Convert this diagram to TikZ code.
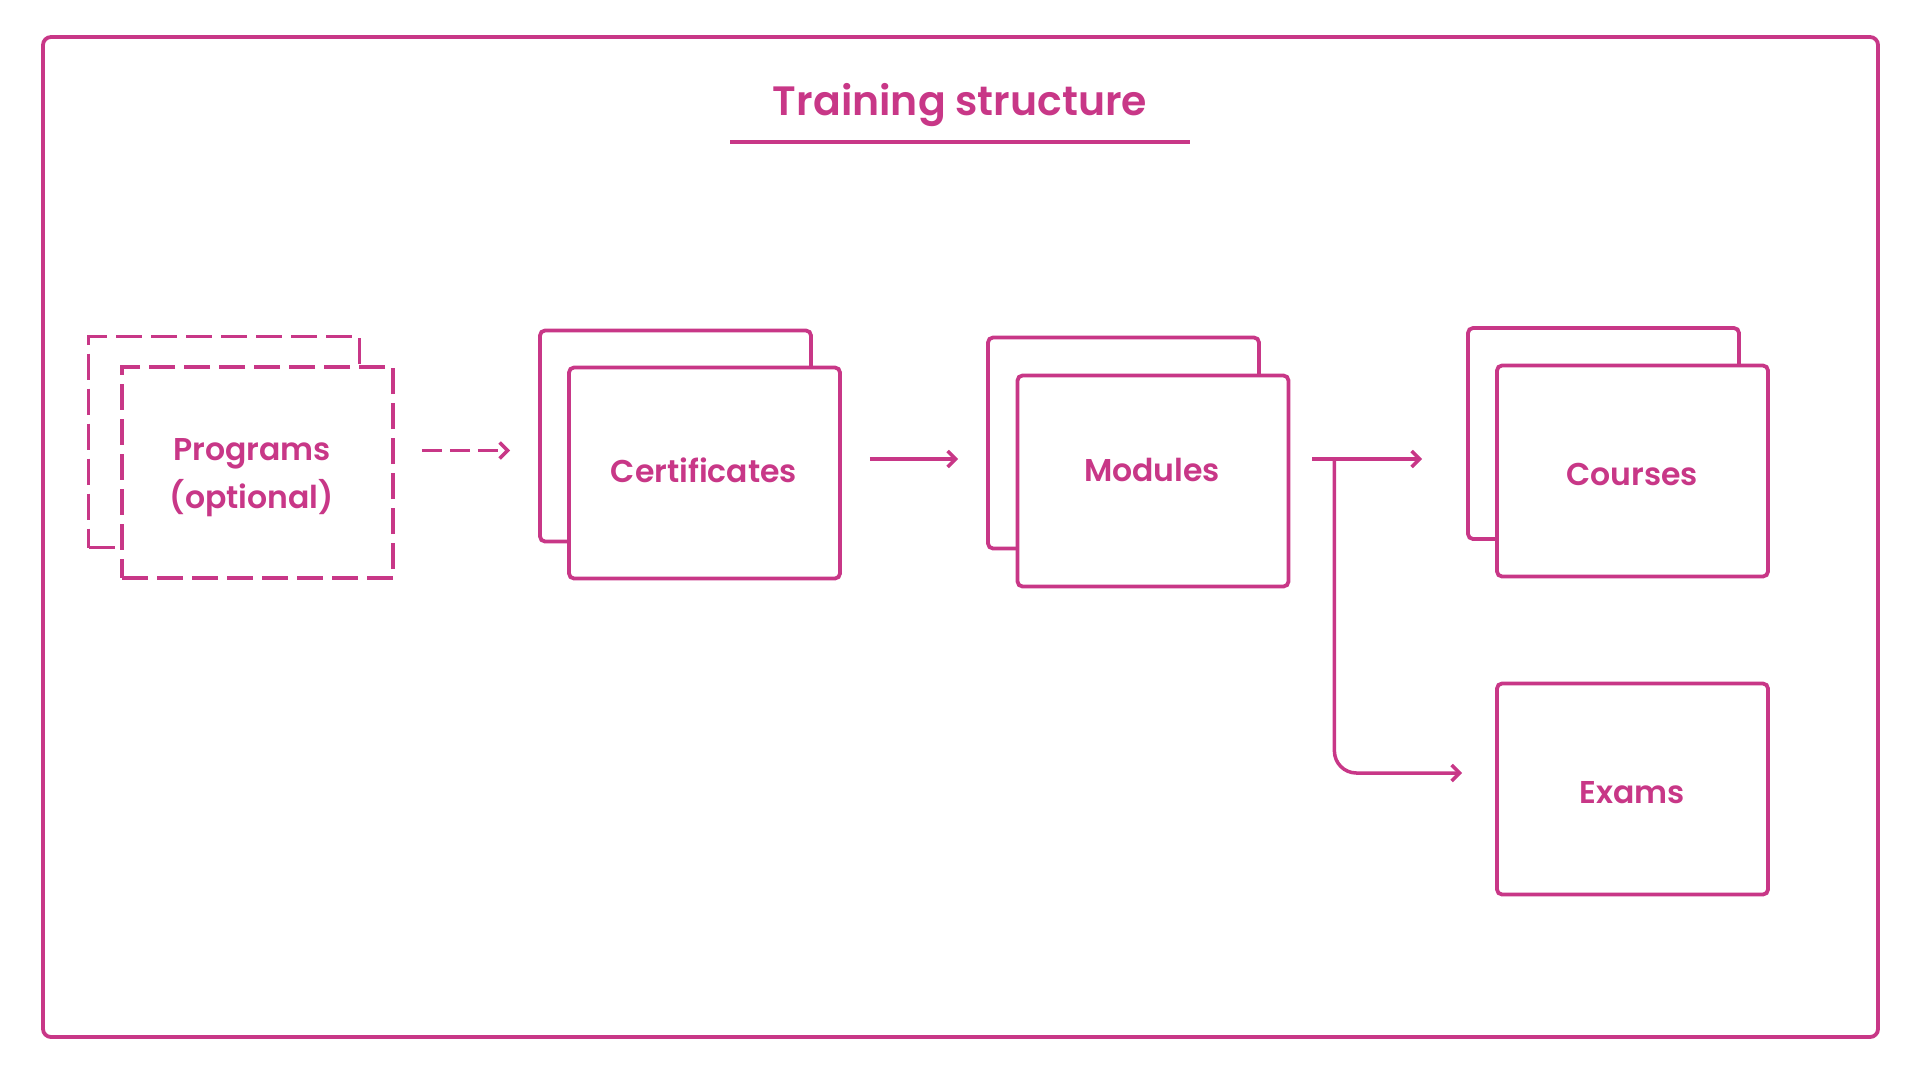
\documentclass[tikz,border=0pt]{standalone}
\usepackage{fontspec}
\setmainfont{Poppins}[BoldFont={Poppins SemiBold}]
\usetikzlibrary{arrows.meta}
\definecolor{mag}{RGB}{200,55,135}
\begin{document}
\begin{tikzpicture}[x=1pt,y=-1pt,
  every node/.style={font=\bfseries\fontsize{31.5}{48}\selectfont, text=mag},
  card/.style={draw=mag, line width=3.8pt, rounded corners=5pt, fill=white,
    minimum width=271pt, minimum height=211pt, inner sep=0pt, align=center},
  dcard/.style={card, rounded corners=0pt, dash pattern=on 26pt off 9pt},
  lbl/.style={inner sep=0pt},
  arr/.style={draw=mag, line width=3.5pt, -{Straight Barb[length=8pt,width=16pt,line width=3.5pt]}},
  darr/.style={arr, dash pattern=on 20pt off 8pt}]
\useasboundingbox (0,0) rectangle (1920,1080);
\draw[mag, line width=3.8pt, rounded corners=8pt] (43,37) rectangle (1878,1037);
\node[font=\bfseries\fontsize{41}{50}\selectfont] (title) at (960,105) {Training structure};
\draw[mag, line width=3.8pt] (730,142) -- (1190,142);
% Programs
\node[dcard] (progb) at (224,442) {};
\node[dcard] (prog) at (257.5,472.5) {};
\node[lbl, align=center] (progt) at (252,478) {Programs\\(optional)};
% Certificates
\node[card] (certb) at (675.5,436) {};
\node[card] (cert) at (704.5,473) {};
\node[lbl] (certt) at (704,470) {Certificates};
% Modules
\node[card] (modb) at (1123.5,443) {};
\node[card] (mod) at (1153,481) {};
\node[lbl] (modt) at (1152,470) {Modules};
% Courses
\node[card] (courseb) at (1603.5,433.5) {};
\node[card] (course) at (1632.5,471) {};
\node[lbl] (courset) at (1632,474) {Courses};
% Exams
\node[card] (exam) at (1632.5,789) {};
\node[lbl] (examt) at (1632,793) {Exams};
% connectors
\draw[darr] ([xshift=27pt,yshift=22pt]prog.east) -- ([xshift=-28pt,yshift=22pt]prog.east -| certb.west);
\draw[arr] ([xshift=28pt,yshift=14pt]cert.east) -- ([xshift=-28pt,yshift=14pt]cert.east -| modb.west);
\coordinate (split) at ([xshift=44pt,yshift=22pt]mod.east);
\coordinate (toc) at ([xshift=-44pt]split -| courseb.west);
\coordinate (toe) at ([xshift=-33pt,yshift=16pt]exam.west);
\draw[arr] ([xshift=22pt,yshift=22pt]mod.east) -- (toc);
\draw[arr, rounded corners=22pt] (split) -- (split |- toe) -- (toe);
\end{tikzpicture}
\end{document}
